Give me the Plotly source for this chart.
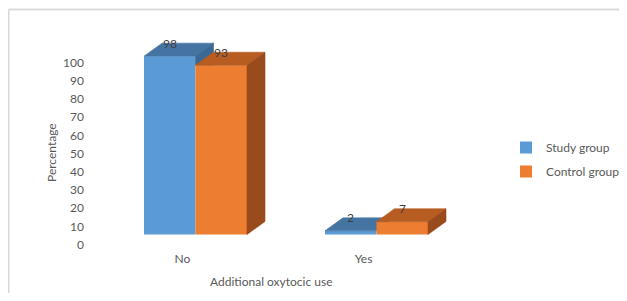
import plotly.graph_objects as go

# ---------------- data ----------------
categories = ["No", "Yes"]
series_names = ["Study group", "Control group"]
study_group = [98, 2]
control_group = [93, 7]
y_ticks = [0, 10, 20, 30, 40, 50, 60, 70, 80, 90, 100]

# ---------------- style / geometry (screen pixels) ----------------
OFF = 8                                 # page body margin
W, H = 627 - OFF, 301 - 2 * OFF
L, R, T, B = 85, 520, 20, 250           # plot area, screen px
PX_PER_X = 181.0
PX_PER_Y = 1.82
X_ZERO_PX = 195.5
Y_ZERO_PX = 234.5

xmin = -(X_ZERO_PX - L) / PX_PER_X
xmax = xmin + (R - L) / PX_PER_X
ymin = -(B - Y_ZERO_PX) / PX_PER_Y
ymax = ymin + (B - T) / PX_PER_Y

BAR_W = 51.5 / PX_PER_X
DX = 18 / PX_PER_X
DY = 13 / PX_PER_Y

FONT = "Lato"
TXT = "#595959"
BLUE, BLUE_TOP, BLUE_SIDE = "#5B9BD5", "#4574A3", "#3B6894"
ORANGE, ORANGE_TOP, ORANGE_SIDE = "#ED7D31", "#B75D22", "#9A4B1C"


def px2paper_x(px):
    return (px - L) / (R - L)


def px2paper_y(py):
    return (B - py) / (B - T)


def top_faces(values, offset):
    xs, ys = [], []
    for i, v in enumerate(values):
        xl, xr = i + offset, i + offset + BAR_W
        xs += [xl, xr, xr + DX, xl + DX, xl, None]
        ys += [v, v, v + DY, v + DY, v, None]
    return xs, ys


def side_faces(values, offset, occluder=None):
    xs, ys = [], []
    for i, v in enumerate(values):
        xr = i + offset + BAR_W
        low = 0
        if occluder is not None:
            low = occluder[i]
            if v <= low:
                continue
        xs += [xr, xr, xr + DX, xr + DX, xr, None]
        ys += [low, v, v + DY, max(low, DY), low, None]
    return xs, ys


fig = go.Figure()
xpos = list(range(len(categories)))

# --- study group (base subplot) ---
fig.add_trace(go.Bar(x=xpos, y=study_group, name=series_names[0], width=BAR_W,
                     offset=-BAR_W, marker=dict(color=BLUE, line=dict(width=0)),
                     legendgroup="a", xaxis="x", yaxis="y"))
tx, ty = top_faces(study_group, -BAR_W)
fig.add_trace(go.Scatter(x=tx, y=ty, fill="toself", fillcolor=BLUE_TOP, mode="lines",
                         line=dict(width=0.6, color=BLUE_TOP), showlegend=False,
                         hoverinfo="skip", xaxis="x", yaxis="y"))
sx, sy = side_faces(study_group, -BAR_W, occluder=control_group)
fig.add_trace(go.Scatter(x=sx, y=sy, fill="toself", fillcolor=BLUE_SIDE, mode="lines",
                         line=dict(width=0.6, color=BLUE_SIDE), showlegend=False,
                         hoverinfo="skip", xaxis="x", yaxis="y"))

# --- control group (overlay subplot, drawn in front) ---
fig.add_trace(go.Bar(x=xpos, y=control_group, name=series_names[1], width=BAR_W,
                     offset=0, marker=dict(color=ORANGE, line=dict(width=0)),
                     legendgroup="b", xaxis="x2", yaxis="y2"))
tx, ty = top_faces(control_group, 0)
fig.add_trace(go.Scatter(x=tx, y=ty, fill="toself", fillcolor=ORANGE_TOP, mode="lines",
                         line=dict(width=0.6, color=ORANGE_TOP), showlegend=False,
                         hoverinfo="skip", xaxis="x2", yaxis="y2"))
sx, sy = side_faces(control_group, 0)
fig.add_trace(go.Scatter(x=sx, y=sy, fill="toself", fillcolor=ORANGE_SIDE, mode="lines",
                         line=dict(width=0.6, color=ORANGE_SIDE), showlegend=False,
                         hoverinfo="skip", xaxis="x2", yaxis="y2"))

# --- data labels ---
annotations = []
for vals, off, xr, yr in [(study_group, -BAR_W / 2, "x", "y"), (control_group, BAR_W / 2, "x2", "y2")]:
    for i, v in enumerate(vals):
        annotations.append(dict(x=i + off, y=v, xref=xr, yref=yr, text=str(v), showarrow=False,
                                xanchor="center", yanchor="middle", yshift=13,
                                font=dict(family=FONT, size=12, color="#404040")))

# --- axis titles ---
annotations.append(dict(x=px2paper_x(51), y=px2paper_y(153), xref="paper", yref="paper",
                        text="Percentage", textangle=-90, showarrow=False,
                        xanchor="center", yanchor="middle",
                        font=dict(family=FONT, size=12, color=TXT)))
annotations.append(dict(x=px2paper_x(271), y=px2paper_y(281), xref="paper", yref="paper",
                        text="Additional oxytocic use", showarrow=False,
                        xanchor="center", yanchor="middle",
                        font=dict(family=FONT, size=12, color=TXT)))

frame = dict(color="#D9D9D9", width=2)
shapes = [
    dict(type="line", xref="paper", yref="paper", x0=px2paper_x(8.5), x1=px2paper_x(640),
         y0=px2paper_y(9.5), y1=px2paper_y(9.5), line=frame),
    dict(type="line", xref="paper", yref="paper", x0=px2paper_x(8.5), x1=px2paper_x(8.5),
         y0=px2paper_y(9.5), y1=px2paper_y(310), line=frame),
]

fig.update_layout(
    width=W, height=H,
    margin=dict(l=L - OFF, r=W - (R - OFF), t=T - OFF, b=H - (B - OFF), pad=0,
                autoexpand=False),
    paper_bgcolor="white", plot_bgcolor="white",
    font=dict(family=FONT, size=12, color=TXT),
    barmode="overlay",
    showlegend=True,
    legend=dict(x=px2paper_x(506), y=px2paper_y(133), xanchor="left", yanchor="top",
                font=dict(family=FONT, size=12, color=TXT), tracegroupgap=5,
                bgcolor="rgba(0,0,0,0)"),
    xaxis=dict(range=[xmin, xmax], tickvals=xpos, ticktext=categories, showgrid=False,
               zeroline=False, showline=False, ticks="", ticklabelshift=-13, fixedrange=True),
    yaxis=dict(range=[ymin, ymax], tickvals=y_ticks, showgrid=False, zeroline=False,
               showline=False, ticks="", ticklabelshift=10, fixedrange=True),
    xaxis2=dict(range=[xmin, xmax], overlaying="x", visible=False, fixedrange=True),
    yaxis2=dict(range=[ymin, ymax], overlaying="y", visible=False, fixedrange=True),
    annotations=annotations,
    shapes=shapes,
)

fig.write_html("out.html")
